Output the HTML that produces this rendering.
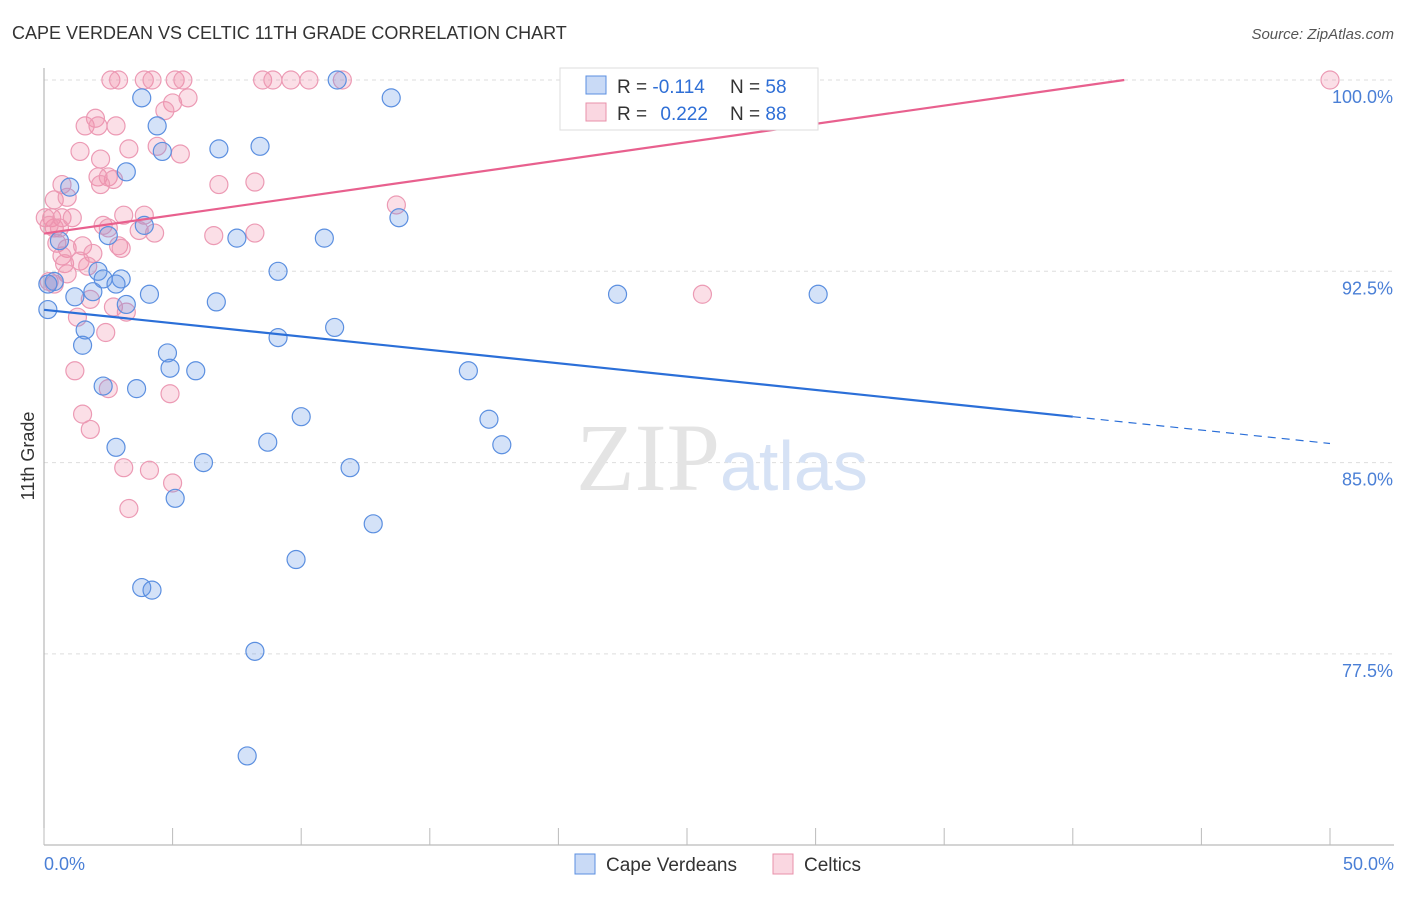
<!DOCTYPE html>
<html><head><meta charset="utf-8"><style>
body{margin:0;background:#fff;font-family:"Liberation Sans",sans-serif}
</style></head><body>
<svg id="chart" width="1406" height="892" xmlns="http://www.w3.org/2000/svg">
<text x="12" y="39" font-size="18" fill="#333">CAPE VERDEAN VS CELTIC 11TH GRADE CORRELATION CHART</text>
<text x="1394" y="39" font-size="15" fill="#555" text-anchor="end" font-style="italic">Source: ZipAtlas.com</text>
<g id="grid"></g>
<text x="720" y="490" font-size="96" fill="#e4e4e4" text-anchor="end" font-family="Liberation Serif,serif">ZIP</text>
<text x="720" y="490" font-size="70" fill="#d6e2f5">atlas</text>
<g id="pts"></g>
<g id="lines"></g>
<text transform="translate(34,456) rotate(-90)" font-size="18" fill="#333" text-anchor="middle">11th Grade</text>
<rect x="560" y="68" width="258" height="62" fill="#fff" stroke="#ddd"/>
<rect x="586" y="76" width="20" height="18" fill="rgba(100,150,230,0.35)" stroke="#5b8fe0"/>
<rect x="586" y="103" width="20" height="18" fill="rgba(240,140,170,0.35)" stroke="#e890aa"/>
<text x="617" y="93" font-size="19" fill="#333">R = <tspan fill="#2f6fd6">-0.114</tspan></text>
<text x="730" y="93" font-size="19" fill="#333">N = <tspan fill="#2f6fd6">58</tspan></text>
<text x="617" y="120" font-size="19" fill="#333">R = <tspan fill="#2f6fd6" dx="8">0.222</tspan></text>
<text x="730" y="120" font-size="19" fill="#333">N = <tspan fill="#2f6fd6">88</tspan></text>
<rect x="575" y="854" width="20" height="20" fill="rgba(100,150,230,0.35)" stroke="#5b8fe0"/>
<text x="606" y="871" font-size="19" fill="#333">Cape Verdeans</text>
<rect x="773" y="854" width="20" height="20" fill="rgba(240,140,170,0.35)" stroke="#e890aa"/>
<text x="804" y="871" font-size="19" fill="#333">Celtics</text>
</svg>
<script>
const yTicks=[100,92.5,85,77.5];
const yTickLabels=["100.0%","92.5%","85.0%","77.5%"];
const xTickLabels=["0.0%","50.0%"];
const blueX=[11.4,3.8,13.5,4.4,6.8,8.4,4.6,3.2,1.0,13.8,3.9,2.5,7.5,10.9,0.6,0.4,0.15,2.1,2.3,3.0,9.1,2.8,1.2,1.9,4.1,6.7,3.2,22.3,30.1,1.6,11.3,9.1,1.5,4.8,4.9,5.9,16.5,2.3,3.6,10.0,17.3,2.8,8.7,17.8,6.2,11.9,5.1,12.8,9.8,3.8,4.2,8.2,7.9,0.15];
const blueY=[100,99.3,99.3,98.2,97.3,97.4,97.2,96.4,95.8,94.6,94.3,93.9,93.8,93.8,93.7,92.1,92.0,92.5,92.2,92.2,92.5,92.0,91.5,91.7,91.6,91.3,91.2,91.6,91.6,90.2,90.3,89.9,89.6,89.3,88.7,88.6,88.6,88.0,87.9,86.8,86.7,85.6,85.8,85.7,85.0,84.8,83.6,82.6,81.2,80.1,80.0,77.6,73.5,91.0];
const pinkX=[2.6,2.9,3.9,4.2,5.1,5.4,8.5,8.9,9.6,10.3,11.6,50,2.0,5.0,5.6,4.7,1.6,2.1,2.8,1.4,2.2,3.3,4.4,5.3,0.7,2.1,2.5,2.7,2.2,6.8,8.2,0.4,0.9,0.3,0.7,1.1,0.4,0.6,3.1,3.9,13.7,2.3,2.5,3.7,4.3,6.6,8.2,0.5,0.9,1.5,1.9,2.9,3.0,0.7,0.8,1.4,1.7,0.9,0.2,1.8,1.3,2.7,3.2,25.6,2.4,1.2,2.5,4.9,1.5,1.8,3.1,4.1,5.0,3.3,0.4,0.05,0.2];
const pinkY=[100,100,100,100,100,100,100,100,100,100,100,100,98.5,99.1,99.3,98.8,98.2,98.2,98.2,97.2,96.9,97.3,97.4,97.1,95.9,96.2,96.2,96.1,95.9,95.9,96.0,95.3,95.4,94.6,94.6,94.6,94.2,94.2,94.7,94.7,95.1,94.3,94.2,94.1,94.0,93.9,94.0,93.6,93.4,93.5,93.2,93.5,93.4,93.1,92.8,92.9,92.7,92.4,92.1,91.4,90.7,91.1,90.9,91.6,90.1,88.6,87.9,87.7,86.9,86.3,84.8,84.7,84.2,83.2,92.0,94.6,94.3];
const blueTrend=[[0,90.99],[40,86.8],[50,85.75]];
const pinkTrend=[[0,93.98],[42,100]];
const X=v=>44+v/50*1286;
const Y=v=>80+(100-v)/7.5*191.3;
const NS="http://www.w3.org/2000/svg";
function mk(tag,attrs,parent){const e=document.createElementNS(NS,tag);for(const k in attrs)e.setAttribute(k,attrs[k]);parent.appendChild(e);return e;}
const grid=document.getElementById('grid');
yTicks.forEach((t,i)=>{
 const l=mk('line',{x1:44,x2:1394,y1:Y(t),y2:Y(t),stroke:'#ddd','stroke-dasharray':'4,4'},grid);
 
 
 const tx=mk('text',{x:1393,y:Y(t)+23,'font-size':18,fill:'#4a7fd6','text-anchor':'end'},grid);
 tx.textContent=yTickLabels[i];
 
 
});
const ax=mk('line',{x1:44,x2:44,y1:68,y2:845,stroke:'#aaa'},grid);


const bx=mk('line',{x1:44,x2:1394,y1:845,y2:845,stroke:'#aaa'},grid);


for(let i=0;i<=10;i++){
 const t=mk('line',{x1:X(i*5),x2:X(i*5),y1:828,y2:845,stroke:'#bbb'},grid);
 
 
}
[[0,'start',44],[50,'end',1394]].forEach((d,i)=>{
 const tx=mk('text',{x:d[2],y:870,'font-size':18,fill:'#4a7fd6','text-anchor':d[1]},grid);
 tx.textContent=xTickLabels[i];
 
 
});
const pts=document.getElementById('pts');
pinkX.forEach((x,i)=>{
 const c=mk('circle',{cx:X(x),cy:Y(pinkY[i]),r:9,fill:'rgba(240,140,170,0.28)',stroke:'#ec9ab4','stroke-width':1.2},pts);
 
 
});
blueX.forEach((x,i)=>{
 const c=mk('circle',{cx:X(x),cy:Y(blueY[i]),r:9,fill:'rgba(100,150,230,0.28)',stroke:'#5b8fe0','stroke-width':1.2},pts);
 
 
});
const lines=document.getElementById('lines');
const b1=mk('line',{x1:X(blueTrend[0][0]),y1:Y(blueTrend[0][1]),x2:X(blueTrend[1][0]),y2:Y(blueTrend[1][1]),stroke:'#2b6fd8','stroke-width':2.2},lines);


const b2=mk('line',{x1:X(blueTrend[1][0]),y1:Y(blueTrend[1][1]),x2:X(blueTrend[2][0]),y2:Y(blueTrend[2][1]),stroke:'#2b6fd8','stroke-width':1.2,'stroke-dasharray':'8,6'},lines);


const p1=mk('line',{x1:X(pinkTrend[0][0]),y1:Y(pinkTrend[0][1]),x2:X(pinkTrend[1][0]),y2:Y(pinkTrend[1][1]),stroke:'#e8608e','stroke-width':2.2},lines);


</script>
</body></html>
